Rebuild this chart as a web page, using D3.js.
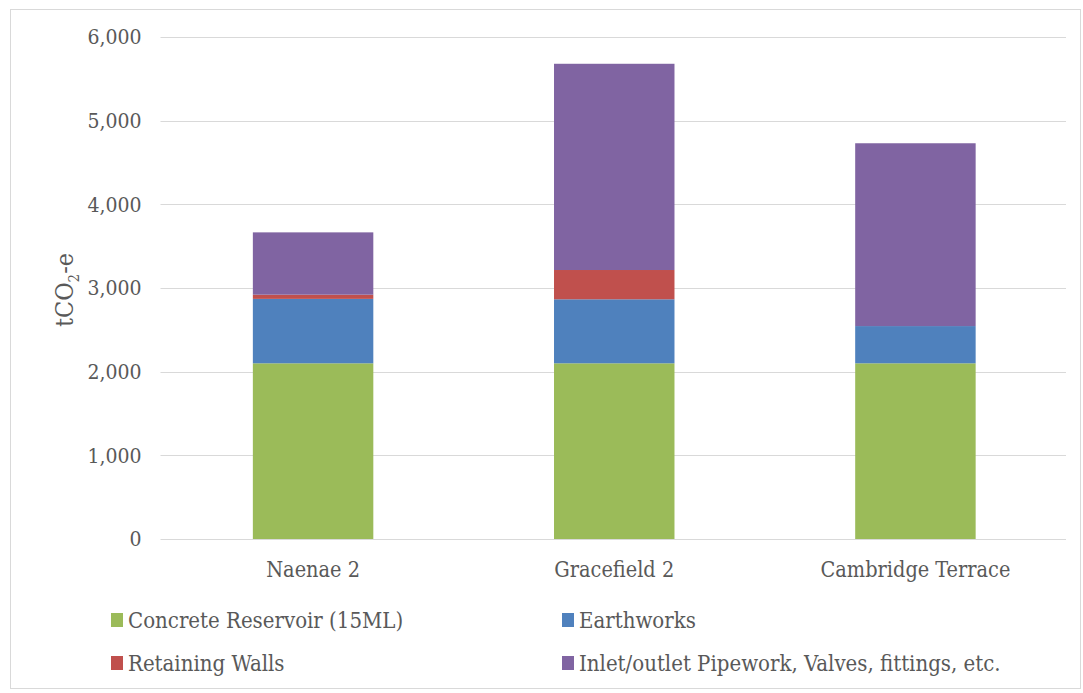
<!DOCTYPE html>
<html>
<head>
<meta charset="utf-8">
<script src="https://cdn.jsdelivr.net/npm/d3@7"></script>
<style>
  html, body { margin: 0; padding: 0; background: #fff; }
  svg text { font-family: "DejaVu Serif Condensed", "DejaVu Serif", serif; font-stretch: condensed; fill: #595959; }
</style>
</head>
<body>
<svg id="chart" width="1083" height="693"></svg>
<script>
// Embodied carbon per reservoir site, split by construction component (tCO2-e)
const categories = ["Naenae 2", "Gracefield 2", "Cambridge Terrace"];
const seriesNames = [
  "Concrete Reservoir (15ML)",
  "Earthworks",
  "Retaining Walls",
  "Inlet/outlet Pipework, Valves, fittings, etc."
];
const concrete   = [2100, 2100, 2100];
const earthworks = [770, 765, 445];
const retaining  = [50, 350, 0];
const pipework   = [745, 2465, 2185];
const yTicks = [0, 1000, 2000, 3000, 4000, 5000, 6000];
const colors = ["#9BBB59", "#4F81BD", "#C0504D", "#8064A2"];

const svg = d3.select("#chart");
const W = 1083, H = 693;

// outer frame
svg.append("rect")
  .attr("x", 10.5).attr("y", 9.5)
  .attr("width", W - 13).attr("height", H - 14)
  .attr("fill", "#fff").attr("stroke", "#d9d9d9").attr("stroke-width", 1);

const plot = { left: 162.5, right: 1066, top: 37, bottom: 539 };

const rows = categories.map((c, i) => ({
  category: c,
  [seriesNames[0]]: concrete[i],
  [seriesNames[1]]: earthworks[i],
  [seriesNames[2]]: retaining[i],
  [seriesNames[3]]: pipework[i]
}));
const stacked = d3.stack().keys(seriesNames)(rows);

const x = d3.scaleBand()
  .domain(categories)
  .range([plot.left, plot.right])
  .paddingInner(0.6)
  .paddingOuter(0.3);

const y = d3.scaleLinear()
  .domain([0, 6000])
  .range([plot.bottom, plot.top]);

// horizontal gridlines
svg.append("g")
  .selectAll("line")
  .data(yTicks.filter(d => d > 0))
  .join("line")
  .attr("x1", plot.left - 2).attr("x2", plot.right)
  .attr("y1", d => Math.round(y(d)) + 0.5)
  .attr("y2", d => Math.round(y(d)) + 0.5)
  .attr("stroke", "#d9d9d9").attr("stroke-width", 1);

// y axis tick labels
const yAxis = d3.axisLeft(y)
  .tickValues(yTicks)
  .tickFormat(d3.format(","))
  .tickSize(0)
  .tickPadding(0);
const yg = svg.append("g")
  .attr("transform", `translate(${plot.left - 21},0)`)
  .call(yAxis);
yg.select(".domain").remove();
yg.selectAll("text")
  .attr("font-size", 21)
  .attr("fill", "#595959")
  .attr("font-family", null);

// stacked bars
svg.append("g")
  .selectAll("g")
  .data(stacked)
  .join("g")
  .attr("fill", (d, i) => colors[i])
  .selectAll("rect")
  .data(d => d)
  .join("rect")
  .attr("x", d => x(d.data.category))
  .attr("width", x.bandwidth())
  .attr("y", d => y(d[1]))
  .attr("height", d => Math.max(0, y(d[0]) - y(d[1])));

// baseline axis
svg.append("line")
  .attr("x1", plot.left - 2).attr("x2", plot.right)
  .attr("y1", Math.round(y(0)) + 0.5).attr("y2", Math.round(y(0)) + 0.5)
  .attr("stroke", "#d9d9d9").attr("stroke-width", 1);

// category labels
const xAxis = d3.axisBottom(x).tickSize(0).tickPadding(0);
const xg = svg.append("g")
  .attr("transform", `translate(0,${plot.bottom + 23})`)
  .call(xAxis);
xg.select(".domain").remove();
xg.selectAll("text")
  .attr("font-size", 21.5)
  .attr("fill", "#595959")
  .attr("font-family", null);

// y axis title with subscript
const yTitle = svg.append("text")
  .attr("transform", "translate(73,290) rotate(-90)")
  .attr("text-anchor", "middle")
  .attr("font-size", 25);
yTitle.append("tspan").text("tCO");
yTitle.append("tspan").attr("font-size", 15).attr("dy", 6).text("2");
yTitle.append("tspan").attr("dy", -6).text("-e");

// legend: two columns, two rows
const legendPos = [
  { x: 111, y: 628 },
  { x: 562, y: 628 },
  { x: 111, y: 671 },
  { x: 562, y: 671 }
];
const legend = svg.append("g")
  .selectAll("g")
  .data(seriesNames)
  .join("g")
  .attr("transform", (d, i) => `translate(${legendPos[i].x},${legendPos[i].y})`);
legend.append("rect")
  .attr("x", 0).attr("y", -15)
  .attr("width", 12).attr("height", 14)
  .attr("fill", (d, i) => colors[i]);
legend.append("text")
  .attr("x", 17).attr("y", 0)
  .attr("font-size", 22)
  .text(d => d);
</script>
</body>
</html>
